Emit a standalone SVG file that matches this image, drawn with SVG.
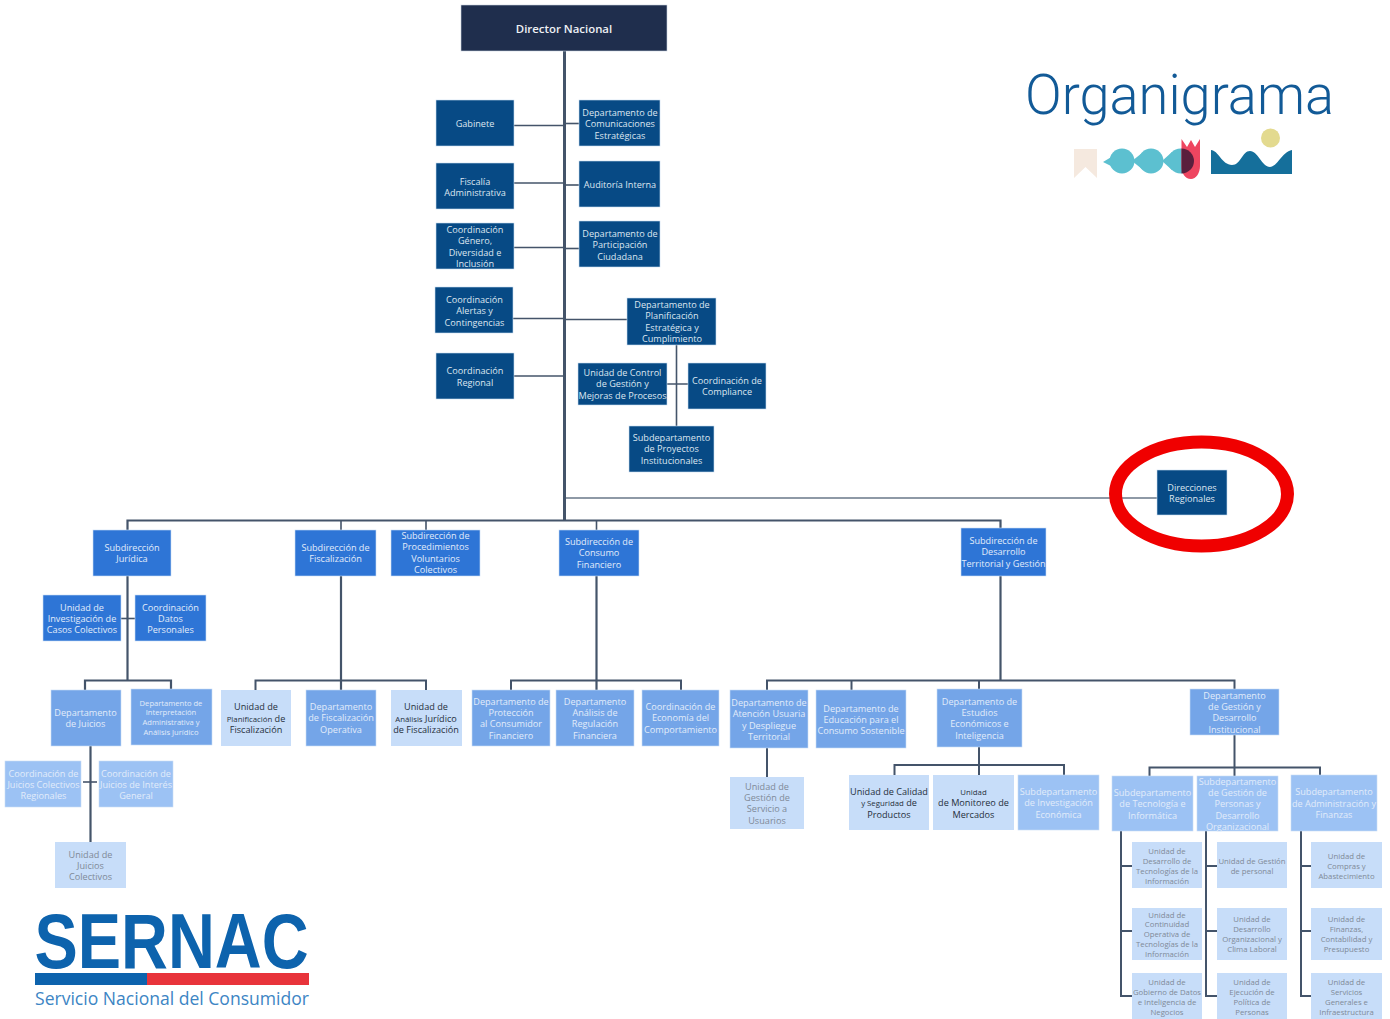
<svg xmlns="http://www.w3.org/2000/svg" width="1390" height="1019" viewBox="0 0 1390 1019">
<style>
text{font-family:"Open Sans","Noto Sans","Liberation Sans",sans-serif;text-anchor:middle;font-size:9.15px}
.c line,.c path{stroke:#44546a;fill:none;stroke-width:1.6}
.c .m{stroke-width:3}
.c .h{stroke-width:2.2}
.n0{fill:#1f2e4d;stroke:#c9d3df;stroke-width:.6}
.n1{fill:#074a85;stroke:#c9dcf0;stroke-width:.6}
.n2{fill:#2e75d6;stroke:#c9dcf5;stroke-width:.6}
.n3{fill:#74a5e8;stroke:#c9dcf5;stroke-width:.6}
.n4{fill:#9cc2f4;stroke:#c9dcf5;stroke-width:.6}
.n5{fill:#c7ddf9}
.d{fill:#dde6f0}
.l{fill:#e2ecfa}
.p{fill:#7f8a98}
.k{fill:#26303c}
.u{font-size:7.75px}
.v{font-size:7.8px}
</style>
<g id="connectors" class="c">
<line class="m" x1="564.5" y1="51" x2="564.5" y2="521"/>
<line x1="514" y1="125.500" x2="564" y2="125.500"/><line x1="564" y1="123.500" x2="579" y2="123.500"/>
<line x1="514" y1="183" x2="564" y2="183"/><line x1="564" y1="185" x2="585" y2="185"/>
<line x1="514" y1="247.500" x2="564" y2="247.500"/><line x1="564" y1="248.500" x2="587" y2="248.500"/>
<line x1="513" y1="318.500" x2="564" y2="318.500"/><line x1="564" y1="319.500" x2="627" y2="319.500"/>
<line x1="514" y1="376" x2="564" y2="376"/>
<line x1="676.500" y1="345" x2="676.500" y2="426"/>
<line x1="661" y1="384" x2="694" y2="384"/>
<line x1="566" y1="498" x2="1157" y2="498" style="stroke:#8e99a6;stroke-width:1.8"/>
<path class="h" d="M127.500 530V520.500H1000.500V528"/>
<line x1="341" y1="520" x2="341" y2="530"/>
<line x1="426" y1="520" x2="426" y2="530"/>
<line x1="596.500" y1="520" x2="596.500" y2="531"/>
<line class="h" x1="127.500" y1="576" x2="127.500" y2="680"/>
<line x1="121" y1="618.500" x2="135" y2="618.500"/>
<path class="h" d="M85 690V680.500H171V689"/>
<line class="h" x1="90.500" y1="746" x2="90.500" y2="842"/>
<line x1="83" y1="782" x2="97" y2="782"/>
<line class="h" x1="341" y1="576" x2="341" y2="690"/>
<path d="M255.500 690V680.500H426V690" style="stroke-width:2"/>
<line class="h" x1="596.500" y1="576" x2="596.500" y2="690"/>
<path d="M511 690V680.500H681V690" style="stroke-width:2"/>
<line class="h" x1="1000.500" y1="576" x2="1000.500" y2="681"/>
<path d="M767 690V680.500H1234.500V689" style="stroke-width:2"/>
<line x1="851.500" y1="680" x2="851.500" y2="690" style="stroke-width:2"/>
<line x1="979" y1="680" x2="979" y2="689" style="stroke-width:2"/>
<line x1="767" y1="748" x2="767" y2="777" style="stroke-width:2"/>
<line x1="979" y1="747" x2="979" y2="775" style="stroke-width:2"/>
<path d="M894.500 775V765H1064V775" style="stroke-width:2"/>
<line x1="1234.500" y1="735" x2="1234.500" y2="776" style="stroke-width:2"/>
<path d="M1149.500 776V767.500H1320V775" style="stroke-width:2"/>
<path d="M1121 831V996H1132M1121 866H1132M1121 931H1132" style="stroke-width:2"/>
<path d="M1206 831V996H1217M1206 866H1217M1206 931H1217" style="stroke-width:2"/>
<path d="M1301 831V996H1311M1301 866H1311M1301 931H1311" style="stroke-width:2"/>
</g>
<g id="director"><rect class="n0" x="461" y="5" width="206" height="46"/><text y="33" x="564" style="font-size:11.4px;font-weight:600;fill:#eef1f5">Director Nacional</text></g>
<g id="gabinete"><rect class="n1" x="436" y="100" width="78" height="46"/><text class="d" x="475" y="127">Gabinete</text></g>
<g id="fiscalia"><rect class="n1" x="436" y="163" width="78" height="46"/><text class="d"><tspan x="475" y="184.500">Fiscalía</tspan><tspan x="475" y="196">Administrativa</tspan></text></g>
<g id="genero"><rect class="n1" x="436" y="223" width="78" height="46"/><text class="d"><tspan x="475" y="233">Coordinación</tspan><tspan x="475" y="244.300">Género,</tspan><tspan x="475" y="255.600">Diversidad e</tspan><tspan x="475" y="267">Inclusión</tspan></text></g>
<g id="alertas"><rect class="n1" x="435" y="287" width="78" height="46"/><text class="d"><tspan x="474.500" y="303">Coordinación</tspan><tspan x="474.500" y="314.300">Alertas y</tspan><tspan x="474.500" y="325.600">Contingencias</tspan></text></g>
<g id="regional"><rect class="n1" x="436" y="353" width="78" height="46"/><text class="d"><tspan x="475" y="374">Coordinación</tspan><tspan x="475" y="385.500">Regional</tspan></text></g>
<g id="comunicaciones"><rect class="n1" x="579" y="100" width="81" height="46"/><text class="d"><tspan x="620" y="116">Departamento de</tspan><tspan x="620" y="127.300">Comunicaciones</tspan><tspan x="620" y="138.600">Estratégicas</tspan></text></g>
<g id="auditoria"><rect class="n1" x="579" y="161" width="81" height="46"/><text class="d" x="620" y="188">Auditoría Interna</text></g>
<g id="participacion"><rect class="n1" x="579" y="221" width="81" height="46"/><text class="d"><tspan x="620" y="237">Departamento de</tspan><tspan x="620" y="248.300">Participación</tspan><tspan x="620" y="259.600">Ciudadana</tspan></text></g>
<g id="planificacion"><rect class="n1" x="627" y="298" width="89" height="47"/><text class="d"><tspan x="672" y="308">Departamento de</tspan><tspan x="672" y="319.300">Planificación</tspan><tspan x="672" y="330.600">Estratégica y</tspan><tspan x="672" y="342">Cumplimiento</tspan></text></g>
<g id="control"><rect class="n1" x="578" y="363" width="89" height="42"/><text class="d"><tspan x="622.500" y="376">Unidad de Control</tspan><tspan x="622.500" y="387.300">de Gestión y</tspan><tspan x="622.500" y="398.600">Mejoras de Procesos</tspan></text></g>
<g id="compliance"><rect class="n1" x="688" y="363" width="78" height="46"/><text class="d"><tspan x="727" y="383.500">Coordinación de</tspan><tspan x="727" y="395">Compliance</tspan></text></g>
<g id="proyectos"><rect class="n1" x="629" y="426" width="85" height="46"/><text class="d"><tspan x="671.500" y="441">Subdepartamento</tspan><tspan x="671.500" y="452.300">de Proyectos</tspan><tspan x="671.500" y="463.600">Institucionales</tspan></text></g>
<g id="direcciones"><rect class="n1" x="1157" y="470" width="70" height="45"/><text class="d"><tspan x="1192" y="490.500">Direcciones</tspan><tspan x="1192" y="502">Regionales</tspan></text><ellipse cx="1201.500" cy="494" rx="86" ry="52" fill="none" stroke="#f00000" stroke-width="13"/></g>
<g id="juridica"><rect class="n2" x="93" y="530" width="78" height="46"/><text class="l"><tspan x="132" y="550.500">Subdirección</tspan><tspan x="132" y="562">Jurídica</tspan></text></g>
<g id="fiscalizacion"><rect class="n2" x="295" y="530" width="81" height="46"/><text class="l"><tspan x="335.500" y="550.500">Subdirección de</tspan><tspan x="335.500" y="562">Fiscalización</tspan></text></g>
<g id="procedimientos"><rect class="n2" x="391" y="530" width="89" height="46"/><text class="l"><tspan x="435.500" y="539">Subdirección de</tspan><tspan x="435.500" y="550.300">Procedimientos</tspan><tspan x="435.500" y="561.600">Voluntarios</tspan><tspan x="435.500" y="573">Colectivos</tspan></text></g>
<g id="consumo"><rect class="n2" x="559" y="530" width="80" height="46"/><text class="l"><tspan x="599" y="545">Subdirección de</tspan><tspan x="599" y="556.300">Consumo</tspan><tspan x="599" y="567.600">Financiero</tspan></text></g>
<g id="desarrollo"><rect class="n2" x="961" y="528" width="85" height="48"/><text class="l"><tspan x="1003.500" y="544">Subdirección de</tspan><tspan x="1003.500" y="555.300">Desarrollo</tspan><tspan x="1003.500" y="566.600">Territorial y Gestión</tspan></text></g>
<g id="investigacion-casos"><rect class="n2" x="43" y="595" width="78" height="46"/><text class="l"><tspan x="82" y="610.500">Unidad de</tspan><tspan x="82" y="621.800">Investigación de</tspan><tspan x="82" y="633.100">Casos Colectivos</tspan></text></g>
<g id="datos"><rect class="n2" x="135" y="595" width="71" height="46"/><text class="l"><tspan x="170.500" y="610.500">Coordinación</tspan><tspan x="170.500" y="621.800">Datos</tspan><tspan x="170.500" y="633.100">Personales</tspan></text></g>
<g id="juicios"><rect class="n3" x="51" y="690" width="70" height="56"/><text class="l"><tspan x="85.500" y="716">Departamento</tspan><tspan x="85.500" y="727.300">de Juicios</tspan></text></g>
<g id="interpretacion"><rect class="n3" x="131" y="689" width="81" height="56"/><text class="l u" style="font-size:7.6px"><tspan x="171" y="705.500">Departamento de</tspan><tspan x="171" y="715.300">Interpretación</tspan><tspan x="171" y="725">Administrativa y</tspan><tspan x="171" y="734.700">Análisis Jurídico</tspan></text></g>
<g id="planif-fisc"><rect class="n5" x="221" y="690" width="70" height="56"/><text class="k"><tspan x="256" y="710">Unidad de</tspan><tspan x="256" y="721.500"><tspan class="v">Planificación</tspan> de</tspan><tspan x="256" y="733">Fiscalización</tspan></text></g>
<g id="fisc-operativa"><rect class="n3" x="306" y="690" width="70" height="56"/><text class="l"><tspan x="341" y="710">Departamento</tspan><tspan x="341" y="721.300">de Fiscalización</tspan><tspan x="341" y="732.800">Operativa</tspan></text></g>
<g id="analisis-fisc"><rect class="n5" x="391" y="690" width="71" height="56"/><text class="k"><tspan x="426" y="710">Unidad de</tspan><tspan x="426" y="721.500"><tspan class="v">Análisis</tspan> Jurídico</tspan><tspan x="426" y="733">de Fiscalización</tspan></text></g>
<g id="coord-juicios"><rect class="n4" x="5" y="761" width="76" height="46"/><text class="l"><tspan x="43.500" y="776.500">Coordinación de</tspan><tspan x="43.500" y="788">Juicios Colectivos</tspan><tspan x="43.500" y="799.300">Regionales</tspan></text></g>
<g id="coord-interes"><rect class="n4" x="99" y="761" width="74" height="46"/><text class="l"><tspan x="136" y="776.500">Coordinación  de</tspan><tspan x="136" y="788">Juicios de Interés</tspan><tspan x="136" y="799.300">General</tspan></text></g>
<g id="unidad-juicios"><rect class="n5" x="55" y="842" width="71" height="46"/><text class="p"><tspan x="90.500" y="857.500">Unidad  de</tspan><tspan x="90.500" y="869">Juicios</tspan><tspan x="90.500" y="880.300">Colectivos</tspan></text></g>
<g id="proteccion"><rect class="n3" x="472" y="690" width="78" height="56"/><text class="l"><tspan x="511" y="704.500">Departamento de</tspan><tspan x="511" y="715.800">Protección</tspan><tspan x="511" y="727.100">al Consumidor</tspan><tspan x="511" y="738.500">Financiero</tspan></text></g>
<g id="regulacion"><rect class="n3" x="556" y="690" width="78" height="56"/><text class="l"><tspan x="595" y="704.500">Departamento</tspan><tspan x="595" y="715.800">Análisis de</tspan><tspan x="595" y="727.100">Regulación</tspan><tspan x="595" y="738.500">Financiera</tspan></text></g>
<g id="comportamiento"><rect class="n3" x="642" y="690" width="77" height="56"/><text class="l"><tspan x="680.500" y="710">Coordinación de</tspan><tspan x="680.500" y="721.300">Economía del</tspan><tspan x="680.500" y="732.800">Comportamiento</tspan></text></g>
<g id="atencion"><rect class="n3" x="730" y="690" width="78" height="58"/><text class="l"><tspan x="769" y="706">Departamento de</tspan><tspan x="769" y="717.300">Atención Usuaria</tspan><tspan x="769" y="728.600">y Despliegue</tspan><tspan x="769" y="740">Territorial</tspan></text></g>
<g id="educacion"><rect class="n3" x="816" y="690" width="90" height="58"/><text class="l"><tspan x="861" y="711.500">Departamento de</tspan><tspan x="861" y="722.800">Educación para el</tspan><tspan x="861" y="734.100">Consumo Sostenible</tspan></text></g>
<g id="estudios"><rect class="n3" x="937" y="689" width="85" height="58"/><text class="l"><tspan x="979.500" y="704.500">Departamento de</tspan><tspan x="979.500" y="715.800">Estudios</tspan><tspan x="979.500" y="727.100">Económicos e</tspan><tspan x="979.500" y="738.500">Inteligencia</tspan></text></g>
<g id="gestion-dep"><rect class="n3" x="1190" y="689" width="89" height="46"/><text class="l"><tspan x="1234.500" y="698.500">Departamento</tspan><tspan x="1234.500" y="709.800">de Gestión y</tspan><tspan x="1234.500" y="721.100">Desarrollo</tspan><tspan x="1234.500" y="732.500">Institucional</tspan></text></g>
<g id="gestion-servicio"><rect class="n5" x="730" y="777" width="74" height="52"/><text class="p"><tspan x="767" y="789.500">Unidad de</tspan><tspan x="767" y="800.800">Gestión de</tspan><tspan x="767" y="812.100">Servicio a</tspan><tspan x="767" y="823.500">Usuarios</tspan></text></g>
<g id="calidad"><rect class="n5" x="849" y="775" width="80" height="55"/><text class="k"><tspan x="889" y="794.500">Unidad de Calidad</tspan><tspan x="889" y="806"><tspan class="v">y Seguridad</tspan> de</tspan><tspan x="889" y="817.500">Productos</tspan></text></g>
<g id="monitoreo"><rect class="n5" x="933" y="775" width="81" height="55"/><text class="k"><tspan class="v" x="973.500" y="794.500">Unidad</tspan><tspan x="973.500" y="806">de Monitoreo de</tspan><tspan x="973.500" y="817.500">Mercados</tspan></text></g>
<g id="inv-economica"><rect class="n4" x="1018" y="775" width="81" height="55"/><text class="l"><tspan x="1058.500" y="794.500">Subdepartamento</tspan><tspan x="1058.500" y="806">de Investigación</tspan><tspan x="1058.500" y="817.500">Económica</tspan></text></g>
<g id="tecnologia"><rect class="n4" x="1112" y="776" width="81" height="55"/><text class="l"><tspan x="1152.500" y="795.500">Subdepartamento</tspan><tspan x="1152.500" y="807">de Tecnología e</tspan><tspan x="1152.500" y="818.500">Informática</tspan></text></g>
<g id="personas"><rect class="n4" x="1197" y="776" width="81" height="55"/><text class="l"><tspan x="1237.500" y="784.500">Subdepartamento</tspan><tspan x="1237.500" y="795.800">de Gestión de</tspan><tspan x="1237.500" y="807.100">Personas y</tspan><tspan x="1237.500" y="818.500">Desarrollo</tspan><tspan x="1237.500" y="830">Organizacional</tspan></text></g>
<g id="administracion"><rect class="n4" x="1291" y="775" width="86" height="56"/><text class="l"><tspan x="1334" y="795">Subdepartamento</tspan><tspan x="1334" y="806.500">de Administración y</tspan><tspan x="1334" y="818">Finanzas</tspan></text></g>
<g id="u-desarrollo"><rect class="n5" x="1132" y="842" width="70" height="46"/><text class="p u"><tspan x="1167" y="854">Unidad de</tspan><tspan x="1167" y="864">Desarrollo de</tspan><tspan x="1167" y="873.800">Tecnologías de la</tspan><tspan x="1167" y="883.600">Información</tspan></text></g>
<g id="u-continuidad"><rect class="n5" x="1132" y="908" width="70" height="52"/><text class="p u"><tspan x="1167" y="917.500">Unidad de</tspan><tspan x="1167" y="927.300">Continuidad</tspan><tspan x="1167" y="937">Operativa de</tspan><tspan x="1167" y="946.800">Tecnologías de la</tspan><tspan x="1167" y="956.600">Información</tspan></text></g>
<g id="u-datos"><rect class="n5" x="1132" y="973" width="70" height="46"/><text class="p u"><tspan x="1167" y="985">Unidad de</tspan><tspan x="1167" y="995">Gobierno de Datos</tspan><tspan x="1167" y="1004.800">e Inteligencia de</tspan><tspan x="1167" y="1014.600">Negocios</tspan></text></g>
<g id="u-personal"><rect class="n5" x="1217" y="842" width="70" height="46"/><text class="p u"><tspan x="1252" y="864">Unidad de Gestión</tspan><tspan x="1252" y="873.800">de personal</tspan></text></g>
<g id="u-organizacional"><rect class="n5" x="1217" y="908" width="70" height="52"/><text class="p u"><tspan x="1252" y="922">Unidad de</tspan><tspan x="1252" y="932">Desarrollo</tspan><tspan x="1252" y="941.800">Organizacional y</tspan><tspan x="1252" y="951.600">Clima Laboral</tspan></text></g>
<g id="u-politica"><rect class="n5" x="1217" y="973" width="70" height="46"/><text class="p u"><tspan x="1252" y="985">Unidad de</tspan><tspan x="1252" y="995">Ejecución de</tspan><tspan x="1252" y="1004.800">Política de</tspan><tspan x="1252" y="1014.600">Personas</tspan></text></g>
<g id="u-compras"><rect class="n5" x="1311" y="842" width="71" height="46"/><text class="p u"><tspan x="1346.500" y="859">Unidad de</tspan><tspan x="1346.500" y="869">Compras y</tspan><tspan x="1346.500" y="878.800">Abastecimiento</tspan></text></g>
<g id="u-finanzas"><rect class="n5" x="1311" y="908" width="71" height="52"/><text class="p u"><tspan x="1346.500" y="922">Unidad de</tspan><tspan x="1346.500" y="932">Finanzas,</tspan><tspan x="1346.500" y="941.800">Contabilidad y</tspan><tspan x="1346.500" y="951.600">Presupuesto</tspan></text></g>
<g id="u-servicios"><rect class="n5" x="1311" y="973" width="71" height="46"/><text class="p u"><tspan x="1346.500" y="985">Unidad de</tspan><tspan x="1346.500" y="995">Servicios</tspan><tspan x="1346.500" y="1004.800">Generales e</tspan><tspan x="1346.500" y="1014.600">Infraestructura</tspan></text></g>
<g id="titulo">
<text x="1179.500" y="114" style="font-family:Roboto,'Liberation Sans',sans-serif;font-weight:300;font-size:55px;fill:#125a97" textLength="309" lengthAdjust="spacingAndGlyphs">Organigrama</text>
<path d="M1074 149H1097V178L1085.500 167L1074 178Z" fill="#f5e9df"/>
<g fill="#5cc0d0">
<circle cx="1122" cy="161" r="12.500"/><circle cx="1151" cy="161" r="12.500"/><circle cx="1180.500" cy="161" r="12.500"/>
<path d="M1103 162L1113 156V167ZM1132 161L1142 153V169ZM1162 161L1172 152V170Z"/>
</g>
<path d="M1181.500 139L1187 147L1191 140L1195 147L1200 139V166C1200 173 1196 179 1191 179C1185 179 1181.500 173 1181.500 166Z" fill="#ee4560"/>
<path d="M1181.500 148.500A12.500 12.500 0 0 1 1181.500 173.500Z" fill="#5a1f3d"/>
<path d="M1211 174V150C1218 150 1222 165 1232 165C1241 165 1242 151 1250 151C1258 151 1262 167 1270 167C1277 167 1282 152 1292 150V174Z" fill="#156f9b"/>
<circle cx="1270.500" cy="138" r="9.500" fill="#e3da8f"/>
</g>
<g id="sernac">
<text x="171.500" y="968" style="font-family:'Liberation Sans',sans-serif;font-weight:700;font-size:78px;fill:#0d63ad" textLength="274" lengthAdjust="spacingAndGlyphs">SERNAC</text>
<rect x="35" y="973" width="112" height="12" fill="#0d63ad"/>
<rect x="147" y="973" width="162" height="12" fill="#e8343b"/>
<text x="172" y="1005" style="font-size:19px;fill:#3c85c4" textLength="274" lengthAdjust="spacingAndGlyphs">Servicio Nacional del Consumidor</text>
</g>
</svg>
